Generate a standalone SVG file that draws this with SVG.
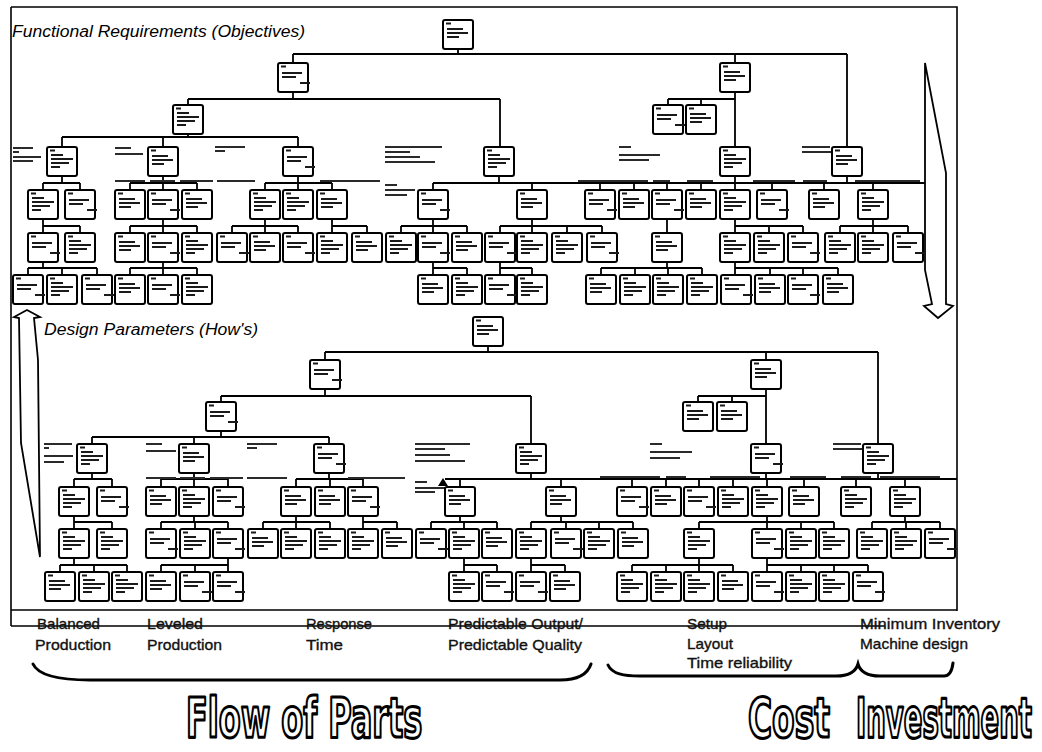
<svg xmlns="http://www.w3.org/2000/svg" xmlns:xlink="http://www.w3.org/1999/xlink" width="1042" height="752" viewBox="0 0 1042 752">
<style>
.bx{fill:#fff;stroke:#000;stroke-width:2}
.fl{fill:none;stroke:#1a1a1a;stroke-width:1.8}
.cn{fill:none;stroke:#000;stroke-width:1.8}
.fr{fill:none;stroke:#000;stroke-width:1.6}
.lm{fill:none;stroke:#2a2a2a;stroke-width:1.8}
.ttl{font-family:"Liberation Sans",Arial,sans-serif;font-style:italic;font-size:16px;fill:#000}
.lb{font-family:"Liberation Sans",Arial,sans-serif;font-size:15px;fill:#111;stroke:#111;stroke-width:0.35}
.big{font-family:"DejaVu Sans Condensed","DejaVu Sans",sans-serif;font-weight:bold;font-size:56px;fill:#fff;stroke:#000;stroke-width:2.6;stroke-linejoin:round}
.arw{fill:#fff;stroke:#000;stroke-width:1.8;stroke-linejoin:miter}
.br{fill:none;stroke:#000;stroke-width:3;stroke-linecap:round}
</style>
<defs>
<g id="n1"><rect class="bx" width="30" height="29" rx="2"/><path class="fl" d="M3 3.5h5M4 9h16M4 13h21M4 17h12"/></g>
<g id="n2"><rect class="bx" width="30" height="29" rx="2"/><path class="fl" d="M3 3.5h5M4 10h20M4 14h14M22 20h10"/></g>
<g id="n3"><rect class="bx" width="30" height="29" rx="2"/><path class="fl" d="M3 3.5h5M4 8h12M4 12h22M4 16h18M4 20h9"/></g>
</defs>
<rect width="1042" height="752" fill="#fff"/>

<g id="frame">
<path class="fr" d="M11 7H957V611M11 7V626M11 610H957M11 626H885"/>
</g>

<g id="titles">
<text class="ttl" x="12" y="37" textLength="293" lengthAdjust="spacingAndGlyphs">Functional Requirements (Objectives)</text>
<text class="ttl" x="44" y="335" textLength="214" lengthAdjust="spacingAndGlyphs">Design Parameters (How's)</text>
</g>

<g id="arrows">
<path id="down-arrow" class="arw" d="M925 63L946 173V304L953 306L938 318L924 306L932 304L925 270Z"/>
<path id="up-arrow" class="arw" d="M27 310L40 317L34 318L38 360L40 557L21 443L19 318L14 317Z"/>
<path d="M443 478L448 486H438Z" fill="#000"/>
</g>

<g id="connectors">
<path class="cn" d="M458 49V54M293 54H847M293 54V63M735 54V63M847 54V147
M293 92V99M188 99H500M188 99V105M500 99V147
M735 92V147M668 99H735M668 99V105M701 99V105
M188 134V137M62 137H298M62 137V147M163 137V147M298 137V147
M62 176V183M43 183H80M43 183V190M80 183V190
M163 176V183M130 183H197M130 183V190M163 183V190M197 183V190
M298 176V183M265 183H332M265 183V190M298 183V190M332 183V190
M433 183H925M499 176V183M433 183V190M532 183V190
M735 176V183M600 183V190M634 183V190M667 183V190M701 183V190M735 183V190M772 183V190
M847 176V183M824 183V190M873 183V190
M43 219V226M43 226H80M43 226V233M80 226V233
M163 219V226M130 226H197M130 226V233M163 226V233M197 226V233
M265 219V226M232 226H298M232 226V233M265 226V233M298 226V233
M332 219V233M332 226H367M367 226V233
M433 219V226M401 226H467M401 226V233M433 226V233M467 226V233
M532 219V226M500 226H602M500 226V233M532 226V233M567 226V233M602 226V233
M667 219V233
M735 219V226M735 226H803M735 226V233M769 226V233M803 226V233
M873 219V226M840 226H908M840 226V233M873 226V233M908 226V233
M43 262V268M28 268H97M28 268V275M62 268V275M97 268V275
M163 262V268M130 268H197M130 268V275M163 268V275M197 268V275
M433 262V275M433 268H467M467 268V275
M500 262V275M500 268H532M532 268V275
M667 262V268M601 268H702M601 268V275M635 268V275M668 268V275M702 268V275
M735 262V275M735 268H838M770 268V275M803 268V275M838 268V275
M488 346V352M325 352H878M325 352V360M766 352V360M878 352V444
M325 389V396M221 396H531M221 396V402M531 396V444
M766 389V444M698 396H766M698 396V402M732 396V402
M221 431V437M92 437H329M92 437V444M194 437V444M329 437V444
M92 473V479M74 479H112M74 479V487M112 479V487
M194 473V479M161 479H228M161 479V487M194 479V487M228 479V487
M329 473V479M296 479H363M296 479V487M330 479V487M363 479V487
M445 479H957M531 473V479M460 479V487M561 479V487
M766 473V479M632 479V487M666 479V487M699 479V487M733 479V487M767 479V487M804 479V487
M878 473V479M856 479V487M905 479V487
M74 516V522M74 522H112M74 522V529M112 522V529
M194 516V522M161 522H228M161 522V529M195 522V529M228 522V529
M296 516V522M263 522H330M263 522V529M296 522V529M330 522V529
M363 516V529M363 522H397M397 522V529
M460 516V522M431 522H497M431 522V529M464 522V529M497 522V529
M561 516V522M531 522H633M531 522V529M566 522V529M599 522V529M633 522V529
M767 516V522M699 522H834M699 522V529M767 522V529M801 522V529M834 522V529
M905 516V522M872 522H940M872 522V529M906 522V529M940 522V529
M74 558V565M60 565H127M60 565V572M94 565V572M127 565V572
M228 558V565M161 565H228M161 565V572M195 565V572M228 565V572
M464 558V572M464 565H497M497 565V572
M531 558V572M531 565H565M565 565V572
M699 558V565M632 565H733M632 565V572M666 565V572M699 565V572M733 565V572
M767 558V572M767 565H868M801 565V572M834 565V572M868 565V572"/>
</g>

<g id="label-marks">
<path class="lm" d="M13 148h20M13 152h6M13 157h28M13 161h20
M115 148h16M115 154h28M215 147h30M215 151h10
M385 147h57M385 152h25M385 157h35M385 162h50
M115 181h30M150 181h25M180 181h33M217 181h38M320 181h60M385 185h12M385 190h30M385 195h22
M578 181h70M653 181h17M687 181h26M753 181h42M803 181h24M855 181h65
M619 147h12M619 155h41M619 160h30M802 147h28M802 152h30
M44 444h28M44 448h5M44 456h29M44 462h20
M146 444h16M146 451h30M247 444h30M247 448h10
M415 444h55M415 449h30M415 455h35M415 461h50
M146 478h30M180 478h25M210 478h33M247 478h40M348 478h57M415 482h12M415 488h30M415 492h20
M600 477h60M666 477h20M710 477h50M790 477h36M841 477h30M880 477h60
M650 444h12M650 452h42M650 458h30M833 444h28M833 449h34"/>
</g>

<g id="fr-tree">
<g id="fr-0"><use href="#n1" x="443" y="20"/></g>
<g id="fr-1"><use href="#n2" x="278" y="63"/></g>
<g id="fr-2"><use href="#n1" x="720" y="63"/></g>
<g id="fr-1-1"><use href="#n3" x="173" y="105"/></g>
<g id="fr-2-1"><use href="#n2" x="653" y="105"/></g>
<g id="fr-2-2"><use href="#n1" x="686" y="105"/></g>
<g id="fr-l3-1"><use href="#n3" x="47" y="147"/></g>
<g id="fr-l3-2"><use href="#n1" x="148" y="147"/></g>
<g id="fr-l3-3"><use href="#n2" x="283" y="147"/></g>
<g id="fr-l3-4"><use href="#n3" x="484" y="147"/></g>
<g id="fr-l3-5"><use href="#n3" x="720" y="147"/></g>
<g id="fr-l3-6"><use href="#n1" x="832" y="147"/></g>
<g id="fr-l4-1"><use href="#n3" x="28" y="190"/></g>
<g id="fr-l4-2"><use href="#n2" x="65" y="190"/></g>
<g id="fr-l4-3"><use href="#n1" x="115" y="190"/></g>
<g id="fr-l4-4"><use href="#n2" x="148" y="190"/></g>
<g id="fr-l4-5"><use href="#n1" x="182" y="190"/></g>
<g id="fr-l4-6"><use href="#n3" x="250" y="190"/></g>
<g id="fr-l4-7"><use href="#n3" x="283" y="190"/></g>
<g id="fr-l4-8"><use href="#n1" x="317" y="190"/></g>
<g id="fr-l4-9"><use href="#n2" x="418" y="190"/></g>
<g id="fr-l4-10"><use href="#n1" x="517" y="190"/></g>
<g id="fr-l4-11"><use href="#n2" x="585" y="190"/></g>
<g id="fr-l4-12"><use href="#n1" x="619" y="190"/></g>
<g id="fr-l4-13"><use href="#n2" x="652" y="190"/></g>
<g id="fr-l4-14"><use href="#n1" x="686" y="190"/></g>
<g id="fr-l4-15"><use href="#n3" x="720" y="190"/></g>
<g id="fr-l4-16"><use href="#n2" x="757" y="190"/></g>
<g id="fr-l4-17"><use href="#n1" x="809" y="190"/></g>
<g id="fr-l4-18"><use href="#n3" x="858" y="190"/></g>
<g id="fr-l5-1"><use href="#n2" x="28" y="233"/></g>
<g id="fr-l5-2"><use href="#n3" x="65" y="233"/></g>
<g id="fr-l5-3"><use href="#n1" x="115" y="233"/></g>
<g id="fr-l5-4"><use href="#n2" x="148" y="233"/></g>
<g id="fr-l5-5"><use href="#n3" x="182" y="233"/></g>
<g id="fr-l5-6"><use href="#n2" x="217" y="233"/></g>
<g id="fr-l5-7"><use href="#n1" x="250" y="233"/></g>
<g id="fr-l5-8"><use href="#n2" x="283" y="233"/></g>
<g id="fr-l5-9"><use href="#n3" x="317" y="233"/></g>
<g id="fr-l5-10"><use href="#n1" x="352" y="233"/></g>
<g id="fr-l5-11"><use href="#n3" x="386" y="233"/></g>
<g id="fr-l5-12"><use href="#n2" x="418" y="233"/></g>
<g id="fr-l5-13"><use href="#n1" x="452" y="233"/></g>
<g id="fr-l5-14"><use href="#n2" x="485" y="233"/></g>
<g id="fr-l5-15"><use href="#n3" x="517" y="233"/></g>
<g id="fr-l5-16"><use href="#n3" x="552" y="233"/></g>
<g id="fr-l5-17"><use href="#n2" x="587" y="233"/></g>
<g id="fr-l5-18"><use href="#n1" x="652" y="233"/></g>
<g id="fr-l5-19"><use href="#n3" x="720" y="233"/></g>
<g id="fr-l5-20"><use href="#n3" x="754" y="233"/></g>
<g id="fr-l5-21"><use href="#n2" x="788" y="233"/></g>
<g id="fr-l5-22"><use href="#n3" x="825" y="233"/></g>
<g id="fr-l5-23"><use href="#n3" x="858" y="233"/></g>
<g id="fr-l5-24"><use href="#n2" x="893" y="233"/></g>
<g id="fr-l6-1"><use href="#n2" x="13" y="275"/></g>
<g id="fr-l6-2"><use href="#n3" x="47" y="275"/></g>
<g id="fr-l6-3"><use href="#n2" x="82" y="275"/></g>
<g id="fr-l6-4"><use href="#n1" x="115" y="275"/></g>
<g id="fr-l6-5"><use href="#n2" x="148" y="275"/></g>
<g id="fr-l6-6"><use href="#n3" x="182" y="275"/></g>
<g id="fr-l6-7"><use href="#n1" x="418" y="275"/></g>
<g id="fr-l6-8"><use href="#n3" x="452" y="275"/></g>
<g id="fr-l6-9"><use href="#n2" x="485" y="275"/></g>
<g id="fr-l6-10"><use href="#n3" x="517" y="275"/></g>
<g id="fr-l6-11"><use href="#n1" x="586" y="275"/></g>
<g id="fr-l6-12"><use href="#n3" x="620" y="275"/></g>
<g id="fr-l6-13"><use href="#n3" x="653" y="275"/></g>
<g id="fr-l6-14"><use href="#n3" x="687" y="275"/></g>
<g id="fr-l6-15"><use href="#n2" x="721" y="275"/></g>
<g id="fr-l6-16"><use href="#n1" x="755" y="275"/></g>
<g id="fr-l6-17"><use href="#n2" x="788" y="275"/></g>
<g id="fr-l6-18"><use href="#n1" x="823" y="275"/></g>
</g>

<g id="dp-tree">
<g id="dp-0"><use href="#n1" x="473" y="317"/></g>
<g id="dp-1"><use href="#n2" x="310" y="360"/></g>
<g id="dp-2"><use href="#n1" x="751" y="360"/></g>
<g id="dp-1-1"><use href="#n2" x="206" y="402"/></g>
<g id="dp-2-1"><use href="#n1" x="683" y="402"/></g>
<g id="dp-2-2"><use href="#n1" x="717" y="402"/></g>
<g id="dp-l3-1"><use href="#n3" x="77" y="444"/></g>
<g id="dp-l3-2"><use href="#n1" x="179" y="444"/></g>
<g id="dp-l3-3"><use href="#n2" x="314" y="444"/></g>
<g id="dp-l3-4"><use href="#n3" x="516" y="444"/></g>
<g id="dp-l3-5"><use href="#n2" x="751" y="444"/></g>
<g id="dp-l3-6"><use href="#n3" x="863" y="444"/></g>
<g id="dp-l4-1"><use href="#n3" x="59" y="487"/></g>
<g id="dp-l4-2"><use href="#n2" x="97" y="487"/></g>
<g id="dp-l4-3"><use href="#n1" x="146" y="487"/></g>
<g id="dp-l4-4"><use href="#n3" x="179" y="487"/></g>
<g id="dp-l4-5"><use href="#n2" x="213" y="487"/></g>
<g id="dp-l4-6"><use href="#n1" x="281" y="487"/></g>
<g id="dp-l4-7"><use href="#n1" x="315" y="487"/></g>
<g id="dp-l4-8"><use href="#n2" x="348" y="487"/></g>
<g id="dp-l4-9"><use href="#n1" x="445" y="487"/></g>
<g id="dp-l4-10"><use href="#n1" x="546" y="487"/></g>
<g id="dp-l4-11"><use href="#n2" x="617" y="487"/></g>
<g id="dp-l4-12"><use href="#n1" x="651" y="487"/></g>
<g id="dp-l4-13"><use href="#n2" x="684" y="487"/></g>
<g id="dp-l4-14"><use href="#n3" x="718" y="487"/></g>
<g id="dp-l4-15"><use href="#n3" x="752" y="487"/></g>
<g id="dp-l4-16"><use href="#n1" x="789" y="487"/></g>
<g id="dp-l4-17"><use href="#n3" x="841" y="487"/></g>
<g id="dp-l4-18"><use href="#n3" x="890" y="487"/></g>
<g id="dp-l5-1"><use href="#n3" x="59" y="529"/></g>
<g id="dp-l5-2"><use href="#n3" x="97" y="529"/></g>
<g id="dp-l5-3"><use href="#n2" x="146" y="529"/></g>
<g id="dp-l5-4"><use href="#n3" x="180" y="529"/></g>
<g id="dp-l5-5"><use href="#n2" x="213" y="529"/></g>
<g id="dp-l5-6"><use href="#n1" x="248" y="529"/></g>
<g id="dp-l5-7"><use href="#n3" x="281" y="529"/></g>
<g id="dp-l5-8"><use href="#n3" x="315" y="529"/></g>
<g id="dp-l5-9"><use href="#n3" x="348" y="529"/></g>
<g id="dp-l5-10"><use href="#n1" x="382" y="529"/></g>
<g id="dp-l5-11"><use href="#n2" x="416" y="529"/></g>
<g id="dp-l5-12"><use href="#n3" x="449" y="529"/></g>
<g id="dp-l5-13"><use href="#n1" x="482" y="529"/></g>
<g id="dp-l5-14"><use href="#n3" x="516" y="529"/></g>
<g id="dp-l5-15"><use href="#n2" x="551" y="529"/></g>
<g id="dp-l5-16"><use href="#n3" x="584" y="529"/></g>
<g id="dp-l5-17"><use href="#n1" x="618" y="529"/></g>
<g id="dp-l5-18"><use href="#n3" x="684" y="529"/></g>
<g id="dp-l5-19"><use href="#n2" x="752" y="529"/></g>
<g id="dp-l5-20"><use href="#n3" x="786" y="529"/></g>
<g id="dp-l5-21"><use href="#n3" x="819" y="529"/></g>
<g id="dp-l5-22"><use href="#n3" x="857" y="529"/></g>
<g id="dp-l5-23"><use href="#n3" x="891" y="529"/></g>
<g id="dp-l5-24"><use href="#n2" x="925" y="529"/></g>
<g id="dp-l6-1"><use href="#n1" x="45" y="572"/></g>
<g id="dp-l6-2"><use href="#n3" x="79" y="572"/></g>
<g id="dp-l6-3"><use href="#n3" x="112" y="572"/></g>
<g id="dp-l6-4"><use href="#n1" x="146" y="572"/></g>
<g id="dp-l6-5"><use href="#n2" x="180" y="572"/></g>
<g id="dp-l6-6"><use href="#n2" x="213" y="572"/></g>
<g id="dp-l6-7"><use href="#n3" x="449" y="572"/></g>
<g id="dp-l6-8"><use href="#n2" x="482" y="572"/></g>
<g id="dp-l6-9"><use href="#n2" x="516" y="572"/></g>
<g id="dp-l6-10"><use href="#n1" x="550" y="572"/></g>
<g id="dp-l6-11"><use href="#n3" x="617" y="572"/></g>
<g id="dp-l6-12"><use href="#n3" x="651" y="572"/></g>
<g id="dp-l6-13"><use href="#n3" x="684" y="572"/></g>
<g id="dp-l6-14"><use href="#n1" x="718" y="572"/></g>
<g id="dp-l6-15"><use href="#n2" x="752" y="572"/></g>
<g id="dp-l6-16"><use href="#n3" x="786" y="572"/></g>
<g id="dp-l6-17"><use href="#n3" x="819" y="572"/></g>
<g id="dp-l6-18"><use href="#n2" x="853" y="572"/></g>
</g>

<g id="bottom-labels">
<text class="lb" x="37" y="629" textLength="63" lengthAdjust="spacingAndGlyphs">Balanced</text>
<text class="lb" x="35" y="650" textLength="76" lengthAdjust="spacingAndGlyphs">Production</text>
<text class="lb" x="147" y="629" textLength="56" lengthAdjust="spacingAndGlyphs">Leveled</text>
<text class="lb" x="147" y="650" textLength="75" lengthAdjust="spacingAndGlyphs">Production</text>
<text class="lb" x="306" y="629" textLength="66" lengthAdjust="spacingAndGlyphs">Response</text>
<text class="lb" x="306" y="650" textLength="37" lengthAdjust="spacingAndGlyphs">Time</text>
<text class="lb" x="448" y="629" textLength="135" lengthAdjust="spacingAndGlyphs">Predictable Output/</text>
<text class="lb" x="448" y="650" textLength="134" lengthAdjust="spacingAndGlyphs">Predictable Quality</text>
<text class="lb" x="687" y="629" textLength="40" lengthAdjust="spacingAndGlyphs">Setup</text>
<text class="lb" x="687" y="649" textLength="46" lengthAdjust="spacingAndGlyphs">Layout</text>
<text class="lb" x="687" y="668" textLength="105" lengthAdjust="spacingAndGlyphs">Time reliability</text>
<text class="lb" x="860" y="629" textLength="140" lengthAdjust="spacingAndGlyphs">Minimum Inventory</text>
<text class="lb" x="860" y="649" textLength="108" lengthAdjust="spacingAndGlyphs">Machine design</text>
</g>

<g id="braces">
<path class="br" d="M33 664C38 675 58 680 90 680H560C580 680 588 673 591 664"/>
<path class="br" d="M608 665C612 674 624 676 640 676H836C850 676 856 671 858 664C860 671 866 676 880 676H944C950 676 952 671 953 663"/>
</g>

<g id="groups">
<text class="big" transform="translate(186 737) scale(0.63 1)" x="0" y="0" textLength="375" lengthAdjust="spacingAndGlyphs" vector-effect="non-scaling-stroke">Flow of Parts</text>
<text class="big" transform="translate(748 737) scale(0.65 1)" x="0" y="0" textLength="126" lengthAdjust="spacingAndGlyphs" vector-effect="non-scaling-stroke">Cost</text>
<text class="big" transform="translate(856 737) scale(0.55 1)" x="0" y="0" textLength="320" lengthAdjust="spacingAndGlyphs" vector-effect="non-scaling-stroke">Investment</text>
</g>
</svg>
